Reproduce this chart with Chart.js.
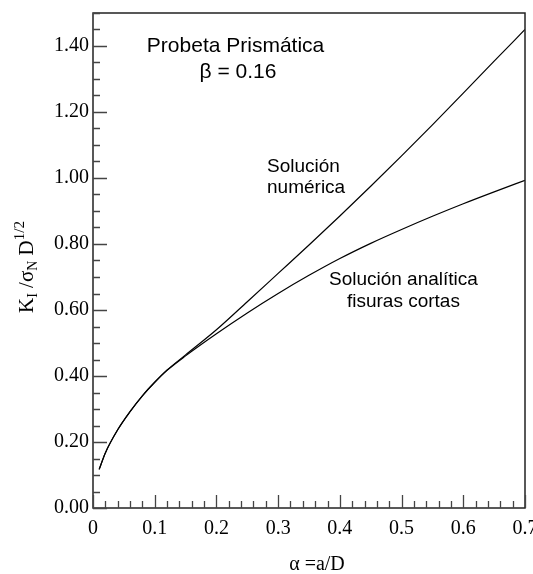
<!DOCTYPE html>
<html>
<head>
<meta charset="utf-8">
<script src="https://cdn.jsdelivr.net/npm/chart.js@4.4.1/dist/chart.umd.min.js"></script>
<style>
  html, body { margin: 0; padding: 0; background: #fff; }
  canvas { display: block; }
</style>
</head>
<body>
<canvas id="chart" width="533" height="574"></canvas>
<script>
// valores
const alpha = [0.01, 0.02, 0.04, 0.06, 0.08, 0.10, 0.12, 0.15, 0.20, 0.25, 0.30, 0.35, 0.40, 0.45, 0.50, 0.55, 0.60, 0.65, 0.70];
const numerica = [0.117, 0.167, 0.237, 0.292, 0.340, 0.381, 0.418, 0.464, 0.540, 0.625, 0.711, 0.797, 0.885, 0.975, 1.067, 1.161, 1.257, 1.354, 1.450];
const analitica = [0.117, 0.167, 0.237, 0.292, 0.340, 0.381, 0.417, 0.461, 0.528, 0.591, 0.650, 0.705, 0.756, 0.802, 0.844, 0.884, 0.922, 0.958, 0.993];

const xTicks = [0, 0.1, 0.2, 0.3, 0.4, 0.5, 0.6, 0.7];
const yTicks = [0, 0.2, 0.4, 0.6, 0.8, 1.0, 1.2, 1.4];
const xMinorStep = 0.02;
const yMinorStep = 0.05;

// textos en coordenadas de datos
const notes = [
    { text: "Probeta Prismática", x: 0.231, y: 1.382, size: 21, align: "center" },
    { text: "β = 0.16", x: 0.235, y: 1.303, size: 21, align: "center" },
    { text: "Solución", x: 0.282, y: 1.018, size: 19, align: "left" },
    { text: "numérica", x: 0.282, y: 0.955, size: 19, align: "left" },
    { text: "Solución analítica", x: 0.503, y: 0.676, size: 19, align: "center" },
    { text: "fisuras cortas", x: 0.503, y: 0.609, size: 19, align: "center" },
];

const SERIF = "'Liberation Serif', 'Times New Roman', serif";
const SANS = "'Liberation Sans', Arial, sans-serif";

const toPoints = (ys) => alpha.map((a, i) => ({ x: a, y: ys[i] }));

const framePlugin = {
    id: "frame",
    afterDraw(chart) {
        const ctx = chart.ctx;
        const xs = chart.scales.x;
        const ys = chart.scales.y;
        const area = chart.chartArea;

        ctx.save();
        // marco
        ctx.strokeStyle = "#222";
        ctx.lineWidth = 1.5;
        ctx.strokeRect(area.left, area.top, area.right - area.left, area.bottom - area.top);

        // marcas hacia dentro
        ctx.strokeStyle = "#444";
        ctx.lineWidth = 1.3;
        ctx.beginPath();
        for (let v = 0; v <= xs.max + 1e-9; v += xMinorStep) {
            const major = xTicks.some((t) => Math.abs(t - v) < 1e-6);
            const px = Math.round(xs.getPixelForValue(v)) + 0.5;
            ctx.moveTo(px, area.bottom);
            ctx.lineTo(px, area.bottom - (major ? 13 : 7));
        }
        for (let v = 0; v <= ys.max + 1e-9; v += yMinorStep) {
            const major = yTicks.some((t) => Math.abs(t - v) < 1e-6);
            const py = Math.round(ys.getPixelForValue(v)) + 0.5;
            ctx.moveTo(area.left, py);
            ctx.lineTo(area.left + (major ? 14 : 7), py);
        }
        ctx.stroke();

        // anotaciones
        ctx.fillStyle = "#000";
        ctx.textBaseline = "alphabetic";
        notes.forEach((n) => {
            ctx.font = `${n.size}px ${SANS}`;
            ctx.textAlign = n.align;
            ctx.fillText(n.text, xs.getPixelForValue(n.x), ys.getPixelForValue(n.y));
        });

        // titulo eje x
        ctx.font = `20px ${SERIF}`;
        ctx.textAlign = "center";
        ctx.fillText("α =a/D", 317, 570);

        // titulo eje y (rotado, con sub/superindices)
        const parts = [
            { t: "K", size: 21, dy: 0 },
            { t: "I", size: 14, dy: 4 },
            { t: " /", size: 21, dy: 0 },
            { t: "σ", size: 21, dy: 0 },
            { t: "N", size: 14, dy: 4 },
            { t: " D", size: 21, dy: 0 },
            { t: "1/2", size: 15, dy: -9 },
        ];
        ctx.translate(33, 313);
        ctx.rotate(-Math.PI / 2);
        ctx.textAlign = "left";
        let cx = 0;
        parts.forEach((p) => {
            ctx.font = `${p.size}px ${SERIF}`;
            ctx.fillText(p.t, cx, p.dy);
            cx += ctx.measureText(p.t).width;
        });
        ctx.restore();
    },
};

new Chart(document.getElementById("chart"), {
    type: "scatter",
    data: {
        datasets: [
            {
                label: "Solución numérica",
                data: toPoints(numerica),
                showLine: true,
                borderColor: "#000",
                borderWidth: 1.2,
                pointRadius: 0,
                cubicInterpolationMode: "monotone",
            },
            {
                label: "Solución analítica fisuras cortas",
                data: toPoints(analitica),
                showLine: true,
                borderColor: "#000",
                borderWidth: 1.2,
                pointRadius: 0,
                cubicInterpolationMode: "monotone",
            },
        ],
    },
    options: {
        responsive: false,
        animation: false,
        devicePixelRatio: 1,
        layout: { padding: { left: 0, top: 13, right: 8, bottom: 0 } },
        plugins: {
            legend: { display: false },
            tooltip: { enabled: false },
        },
        scales: {
            x: {
                type: "linear",
                min: 0,
                max: 0.7,
                grid: { display: false, drawTicks: false },
                border: { display: false },
                afterBuildTicks: (scale) => {
                    scale.ticks = xTicks.map((v) => ({ value: v }));
                },
                afterFit: (scale) => {
                    scale.height = 66;
                    scale.paddingLeft = 0;
                    scale.paddingRight = 0;
                },
                ticks: {
                    padding: 9,
                    color: "#000",
                    maxRotation: 0,
                    font: { family: SERIF, size: 20 },
                    callback: (v) => (v === 0 ? "0" : v.toFixed(1)),
                },
            },
            y: {
                type: "linear",
                min: 0,
                max: 1.5,
                grid: { display: false, drawTicks: false },
                border: { display: false },
                afterBuildTicks: (scale) => {
                    scale.ticks = yTicks.map((v) => ({ value: v }));
                },
                afterFit: (scale) => {
                    scale.width = 93;
                    scale.paddingTop = 0;
                    scale.paddingBottom = 0;
                },
                ticks: {
                    padding: 4,
                    color: "#000",
                    font: { family: SERIF, size: 20 },
                    callback: (v) => v.toFixed(2),
                },
            },
        },
    },
    plugins: [framePlugin],
});
</script>
</body>
</html>
